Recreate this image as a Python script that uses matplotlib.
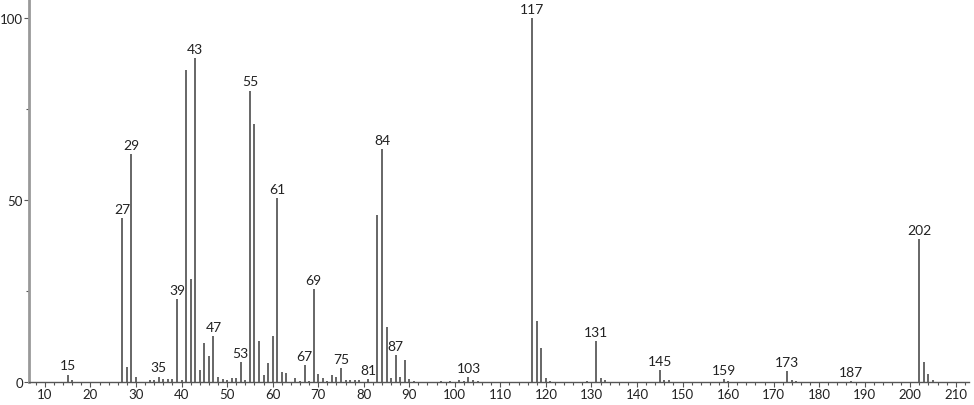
import matplotlib
matplotlib.use("Agg")
import matplotlib.pyplot as plt
from matplotlib.ticker import MultipleLocator

plt.rcParams["font.family"] = ["Lato", "DejaVu Sans"]

# m/z and relative intensity
mz = [15, 16, 27, 28, 29, 30, 33, 34, 35, 36, 37, 38, 39, 40, 41, 42, 43, 44, 45, 46,
      47, 48, 49, 50, 51, 52, 53, 54, 55, 56, 57, 58, 59, 60, 61, 62, 63, 65, 66, 67,
      68, 69, 70, 71, 72, 73, 74, 75, 76, 77, 78, 79, 81, 83, 84, 85, 86, 87, 88, 89,
      90, 91, 97, 99, 101, 102, 103, 104, 105, 117, 118, 119, 120, 121, 129, 131, 132, 133,
      145, 146, 147, 159, 160, 173, 174, 175, 187, 202, 203, 204, 205]
intensity = [2.0, 0.5, 45.0, 4.0, 62.6, 1.5, 0.5, 0.6, 1.5, 0.7, 0.7, 0.7, 22.8, 0.5, 85.7, 28.3, 89.0, 3.3, 10.7, 7.1,
             12.6, 1.4, 0.8, 0.5, 1.0, 1.0, 5.5, 0.5, 80.0, 71.0, 11.3, 2.0, 5.3, 12.6, 50.5, 2.7, 2.4, 1.2, 0.3, 4.7,
             0.3, 25.5, 2.2, 1.2, 0.3, 2.0, 1.3, 3.8, 0.5, 0.5, 0.5, 0.5, 0.7, 46.0, 64.0, 15.0, 1.0, 7.4, 1.5, 6.0,
             0.8, 0.3, 0.3, 0.3, 0.6, 0.3, 1.4, 0.6, 0.4, 100.0, 16.8, 9.4, 1.0, 0.4, 0.3, 11.2, 1.2, 0.5,
             3.3, 0.5, 0.5, 0.8, 0.3, 3.0, 0.5, 0.4, 0.3, 39.3, 5.5, 2.2, 0.5]
labeled = [15, 27, 29, 35, 39, 43, 47, 53, 55, 61, 67, 69, 75, 81, 84, 87, 103, 117,
           131, 145, 159, 173, 187, 202]

fig = plt.figure(figsize=(9.74, 4.06), dpi=100)
ax = fig.add_axes([29 / 974, 23 / 406, 940 / 974, 383 / 406])

ax.vlines(mz, 0, intensity, colors="#5a5a5a", linewidth=1.3)

peaks = dict(zip(mz, intensity))
for m in labeled:
    ax.text(m, peaks[m] + 0.9, str(m), ha="center", va="bottom", fontsize=10, color="#222222")

ax.set_xlim(6.5, 212.9)
ax.set_ylim(0, 105.2)
ax.xaxis.set_major_locator(MultipleLocator(10))
ax.xaxis.set_minor_locator(MultipleLocator(2))
ax.yaxis.set_major_locator(MultipleLocator(50))
ax.yaxis.set_minor_locator(MultipleLocator(25))

for side in ("top", "right"):
    ax.spines[side].set_visible(False)
ax.spines["left"].set_color("#999999")
ax.spines["left"].set_linewidth(2)
ax.spines["bottom"].set_color("#555555")
ax.spines["bottom"].set_linewidth(1)

ax.tick_params(axis="both", which="major", length=3.5, width=0.8, color="#555555",
               labelsize=9.5, labelcolor="#222222", pad=1)
ax.tick_params(axis="both", which="minor", length=2.5, width=0.8, color="#555555")

fig.savefig("out.png", dpi=100)
plt.close(fig)
